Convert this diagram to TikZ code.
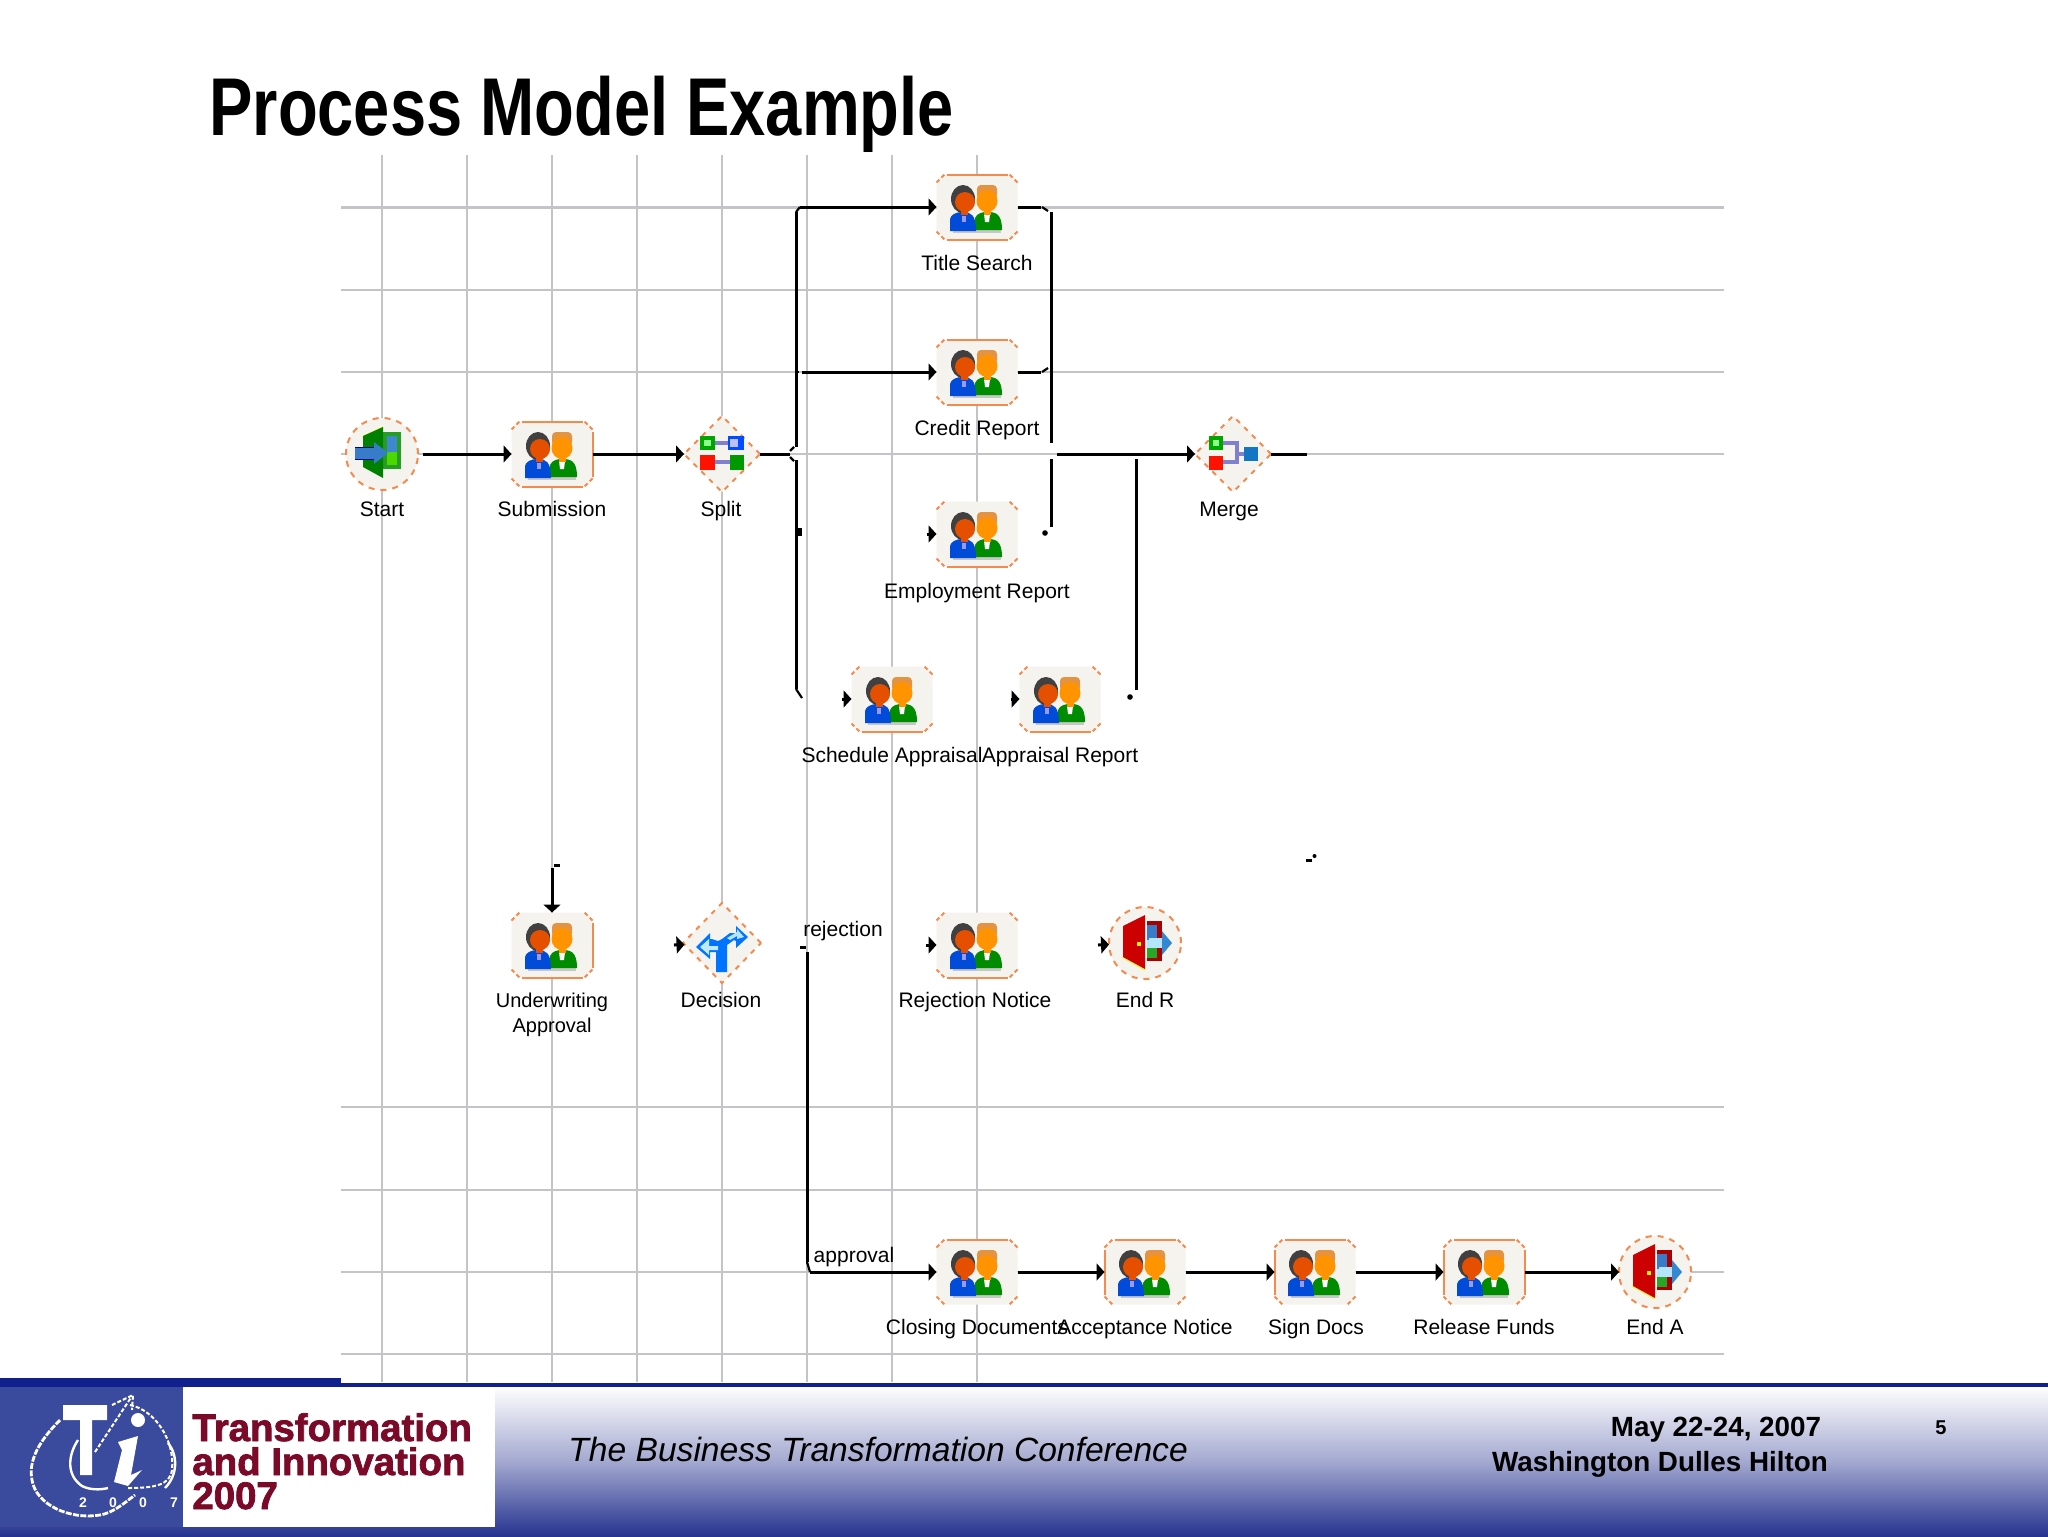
\documentclass[tikz,border=0pt]{standalone}
\usepackage{fontspec}
\setmainfont{Liberation Sans}
\newfontfamily\logofont[FakeBold=2]{Liberation Sans Bold}
\usetikzlibrary{arrows.meta,calc,shapes.geometric}
\definecolor{gridc}{HTML}{C4C4C8}
\definecolor{paneB}{HTML}{F4F3EE}
\definecolor{edgeO}{HTML}{F58A4E}
\definecolor{footB}{HTML}{26338F}
\definecolor{lineB}{HTML}{10208C}
\definecolor{logoB}{HTML}{3A4A9C}
\definecolor{logoR}{HTML}{7A0A28}
\tikzset{
 gridline/.style={gridc,line width=1.35pt},
 flow/.style={black,line width=1.5pt,-{Triangle[length=4pt,width=8.5pt]}},
 plain/.style={black,line width=1.5pt},
 thinflow/.style={black,line width=1.1pt},
 edge/.style={edgeO,line width=1pt},
 taskbox/.style={rectangle,fill=paneB,rounded corners=5pt,minimum width=40.5pt,minimum height=32.5pt,inner sep=0pt,outer sep=0pt},
 roundbox/.style={circle,fill=paneB,draw=edgeO,line width=1pt,dash pattern=on 3pt off 3pt,minimum size=36pt,inner sep=0pt,outer sep=0pt},
 gatebox/.style={diamond,fill=paneB,draw=edgeO,line width=1pt,dash pattern=on 2.5pt off 3pt,minimum width=38pt,minimum height=38pt,inner sep=0pt,outer sep=0pt},
 lab/.style={font=\fontsize{10.5}{12.5}\selectfont,inner sep=0pt,align=center,anchor=base},
 people/.pic={
  % right person
  \fill[black!22] (-24,23) rectangle (24,26);
  \fill[green!55!black] (-2,23) -- (-2,11) .. controls (0,6) and (6,5) .. (10,5) .. controls (18,5) and (25,6) .. (25,23) -- cycle;
  \fill[white] (7,7) -- (13,7) -- (12,15) -- (8,15) -- cycle;
  \fill[orange!50!brown!85,rounded corners=2pt] (0,-22) rectangle (20,-8);
  \fill[orange!85!yellow] (10,-6) ellipse (10.5 and 11);
  \fill[orange!85!yellow] (7,3) rectangle (14,8);
  % left person
  \fill[blue!65!cyan!85!black] (-27,24) -- (-27,12) .. controls (-26,8) and (-22,5) .. (-14,5) .. controls (-6,5) and (-1,8) .. (-1,24) -- cycle;
  \fill[white!60!blue] (-15,9) rectangle (-11,15);
  \fill[black!75] (-14,-8) ellipse (12 and 14);
  \fill[orange!70!red!90!black] (-12,-5) ellipse (10 and 10);
  \fill[orange!70!red!90!black] (-16,2) rectangle (-9,8);
 },
 splitico/.pic={
  \draw[black!40!blue!50,line width=2pt] (-15,-11) -- (15,-11) (-15,8) -- (15,8);
  \fill[green!65!black] (-22,-18) rectangle (-7,-4);
  \fill[green!45!white] (-18,-14) rectangle (-11,-8);
  \fill[blue!70!cyan] (6,-18) rectangle (22,-4);
  \fill[blue!25] (8,-15) rectangle (16,-7);
  \fill[red!85!orange] (-22,1) rectangle (-7,16);
  \fill[green!60!black] (8,1) rectangle (22,16);
 },
 mergeico/.pic={
  \draw[black!40!blue!50,line width=2.2pt] (-14,-11) -- (4,-11) -- (4,8) -- (-14,8) (4,0) -- (14,0);
  \fill[green!65!black] (-24,-18) rectangle (-10,-4);
  \fill[green!45!white] (-20,-14) rectangle (-14,-8);
  \fill[red!85!orange] (-24,2) rectangle (-10,16);
  \fill[cyan!55!blue] (11,-7) rectangle (25,7);
 },
 decico/.pic={
  \fill[blue!55!cyan] (-6,29) -- (5,29) -- (5,2) -- (12,-3) -- (14,-2) -- (14,5) -- (26,-6) -- (14,-17) -- (14,-10) -- (8,-10) -- (0,-4) -- (-4,-2) -- (-10,-4) -- (-12,-4) -- (-12,-10) -- (-26,4) -- (-12,16) -- (-12,9) -- (-6,9) -- cycle;
  \fill[cyan!25!white] (-22,4) -- (-13,-4) -- (-13,3) -- (-4,3) -- (-4,7) -- (-13,7) -- (-13,12) -- cycle;
  \fill[cyan!30!white] (5,-5) -- (15,-11) -- (15,-14) -- (22,-6) -- (15,-4) -- (15,-7) -- (8,-3) -- cycle;
 },
 enterico/.pic={
  \fill[green!55!black!85] (1,-22) rectangle (19,15);
  \fill[cyan!55!blue!80] (5,-18) rectangle (15,-2);
  \fill[green!65!yellow!85!black] (5,-2) rectangle (15,11);
  \draw[yellow!70,line width=.8pt] (-20,-17) -- (1,-27);
  \fill[green!50!black] (-19,-18) -- (1,-27) -- (1,24) -- (-19,13) -- cycle;
  \fill[cyan!50!blue!85] (-27,-7) rectangle (-6,5);
  \fill[cyan!50!blue!85] (-8,-12) -- (6,-1) -- (-8,10) -- cycle;
  \draw[blue!60!black,line width=.5pt] (-27,-7) -- (-8,-7) (-27,5) -- (-8,5);
 },
 exitico/.pic={
  \fill[red!65!black] (2,-22) rectangle (17,18);
  \fill[cyan!50!blue!85] (2,-18) rectangle (12,-3);
  \fill[white!70!cyan] (2,-3) rectangle (12,5);
  \fill[green!60!black!85] (2,5) rectangle (12,15);
  \draw[yellow!70,line width=.8pt] (-23,14) -- (0,27);
  \fill[red!80!black] (-22,-17) -- (0,-28) -- (0,26) -- (-22,14) -- cycle;
  \fill[yellow] (-8,-1) rectangle (-4,3);
  \fill[white!70!cyan] (4,-5) rectangle (17,5);
  \fill[cyan!60!blue!85] (17,-12) -- (27,0) -- (17,12) -- cycle;
 }
}
\newcommand{\TaskNode}[3]{%
 \node[taskbox] (#1) at (#2,#3) {};
 \pic at (#1) {people};
 \draw[edge,dash pattern=on 2pt off 1.5pt] ($(#1.north west)+(0,8)$) -- ($(#1.north west)+(8,0)$);
 \draw[edge,dash pattern=on 2pt off 1.5pt] ($(#1.north east)+(0,8)$) -- ($(#1.north east)+(-8,0)$);
 \draw[edge,dash pattern=on 2pt off 1.5pt] ($(#1.south west)+(0,-8)$) -- ($(#1.south west)+(8,0)$);
 \draw[edge,dash pattern=on 2pt off 1.5pt] ($(#1.south east)+(0,-8)$) -- ($(#1.south east)+(-8,0)$);
}
\newcommand{\TopEdge}[1]{\draw[edge] ($(#1.north west)+(10,0)$) -- ($(#1.north east)+(-10,0)$);}
\newcommand{\BotEdge}[1]{\draw[edge] ($(#1.south west)+(10,0)$) -- ($(#1.south east)+(-10,0)$);}
\newcommand{\LeftEdge}[1]{\draw[edge] ($(#1.north west)+(0,10)$) -- ($(#1.south west)+(0,-10)$);}
\newcommand{\RightEdge}[1]{\draw[edge] ($(#1.north east)+(0,10)$) -- ($(#1.south east)+(0,-10)$);}
\begin{document}
\begin{tikzpicture}[x=0.5pt,y=-0.5pt]
\useasboundingbox (0,0) rectangle (2048,1536);
\fill[white] (0,0) rectangle (2048,1536);
% grid
\foreach \gx in {382,467,552,637,722,807,892,977}
  \draw[gridline] (\gx,155) -- (\gx,1382);
\foreach \gy in {207.5,290,372,454,1107,1190,1272,1354}
  \draw[gridline] (341,\gy) -- (1724,\gy);
% footer
\shade[top color=white,bottom color=footB,middle color=footB!42!white] (0,1386) rectangle (2048,1536);
\fill[lineB] (0,1378) rectangle (341,1387);
\fill[lineB] (341,1383) rectangle (2048,1387);
% task and gate nodes
\node[roundbox] (start) at (382,454) {};
\pic at (start) {enterico};
\TaskNode{sub}{552}{454}\TopEdge{sub}\BotEdge{sub}\RightEdge{sub}
\node[gatebox] (split) at (722,454) {};
\pic at (split) {splitico};
\TaskNode{title}{977}{207}\TopEdge{title}\BotEdge{title}
\TaskNode{credit}{977}{372}\TopEdge{credit}\BotEdge{credit}
\TaskNode{employ}{977}{534}\BotEdge{employ}
\TaskNode{sched}{892}{699}\BotEdge{sched}
\TaskNode{appr}{1060}{699}\BotEdge{appr}
\node[gatebox] (merge) at (1233,454) {};
\pic at (merge) {mergeico};
\TaskNode{under}{552}{945}\BotEdge{under}\RightEdge{under}
\node[gatebox,minimum width=39pt,minimum height=40pt] (decide) at (722,943) {};
\pic at (decide) {decico};
\TaskNode{reject}{977}{945}\BotEdge{reject}
\node[roundbox] (endr) at (1145,943) {};
\pic at (endr) {exitico};
\TaskNode{closing}{977}{1272}\TopEdge{closing}
\TaskNode{accept}{1145}{1272}\TopEdge{accept}\LeftEdge{accept}
\TaskNode{sign}{1315}{1272}\TopEdge{sign}\LeftEdge{sign}
\TaskNode{release}{1484}{1272}\TopEdge{release}\LeftEdge{release}\RightEdge{release}
\node[roundbox] (enda) at (1655,1272) {};
\pic at (enda) {exitico};
% named free ends
\coordinate (sj) at (790,454);
\coordinate (bl0) at (800,207);
\coordinate (bl1) at (796,212);
\coordinate (bl2) at (796,447);
\coordinate (bl3) at (796,460);
\coordinate (bl4) at (796,689);
\coordinate (bl5) at (802,698);
\coordinate (tl) at (800,207);
\coordinate (cl) at (802,372);
\coordinate (estub) at (927,534);
\coordinate (sstub) at (842,699);
\coordinate (astub) at (1011,699);
\coordinate (tr) at (1041,207);
\coordinate (cr) at (1041,372);
\coordinate (br1) at (1051,212);
\coordinate (br2) at (1051,443);
\coordinate (br3) at (1051,459);
\coordinate (br4) at (1051,527);
\coordinate (mj) at (1057,454);
\coordinate (b2a) at (1136,459);
\coordinate (b2b) at (1136,690);
\coordinate (mout) at (1307,454);
\coordinate (utop) at (552,868);
\coordinate (dstub) at (674,945);
\coordinate (rstub) at (926,945);
\coordinate (estub2) at (1098,945);
\coordinate (dv1) at (807,952);
\coordinate (dv2) at (807,1262);
\coordinate (dh) at (810,1272);
% connectors
\draw[flow,shorten <=2.5pt] (start) -- (sub);
\draw[flow] (sub) -- (split);
\draw[plain] (split) -- (sj);
\draw[plain] (bl1) -- (bl2);
\draw[plain] (bl3) -- (bl4);
\draw[thinflow] (bl1) -- (bl0);
\draw[thinflow] (bl4) -- (bl5);
\draw[flow] (tl) -- (title);
\draw[flow] (cl) -- (credit);
\draw[flow] (estub) -- (employ);
\draw[flow] (sstub) -- (sched);
\draw[flow] (astub) -- (appr);
\draw[plain] (title) -- (tr);
\draw[plain] (credit) -- (cr);
\draw[plain] (br1) -- (br2);
\draw[plain] (br3) -- (br4);
\draw[flow] (mj) -- (merge);
\draw[plain] (b2a) -- (b2b);
\draw[plain] (merge) -- (mout);
\draw[flow] (utop) -- (under);
\draw[flow] (dstub) -- (decide);
\draw[flow] (rstub) -- (reject);
\draw[flow] (estub2) -- (endr);
\draw[plain] (dv1) -- (dv2);
\draw[thinflow] (dv2) -- (dh);
\draw[flow] (dh) -- (closing);
\draw[flow] (closing) -- (accept);
\draw[flow] (accept) -- (sign);
\draw[flow] (sign) -- (release);
\draw[flow] (release) -- (enda);
% connector fragments
\draw[thinflow] (790,451) -- (794,447) (790,457) -- (794,461);
\draw[thinflow] (1042,207) -- (1048,211) (1042,372) -- (1048,368);
\draw[thinflow] (795,372) -- (799,372);
\fill (1045,533) circle (2.8);
\fill (1130,697) circle (2.8);
\fill (797,528) rectangle (802,536);
\fill (800,946) rectangle (806,948.5);
\fill (554,864) rectangle (560,866.5);
\fill (1306,862) rectangle (1312,859);
\fill (1314.5,856) circle (2);
% labels
\node[lab] (l1) at (382,516) {Start};
\node[lab] (l2) at (552,516) {Submission};
\node[lab] (l3) at (721,516) {Split};
\node[lab] (l4) at (977,270) {Title Search};
\node[lab] (l5) at (977,435) {Credit Report};
\node[lab] (l6) at (977,598) {Employment Report};
\node[lab] (l7) at (892,762) {Schedule Appraisal};
\node[lab] (l8) at (1060,762) {Appraisal Report};
\node[lab] (l9) at (1229,516) {Merge};
\node[lab,anchor=center,font=\fontsize{10}{12.5}\selectfont] (l10) at (552,1014.5) {Underwriting\\Approval};
\node[lab] (l11) at (721,1007) {Decision};
\node[lab] (l12) at (975,1007) {Rejection Notice};
\node[lab] (l13) at (1145,1007) {End R};
\node[lab] (l14) at (843,936) {rejection};
\node[lab] (l15) at (854,1262) {approval};
\node[lab] (l16) at (977,1334) {Closing Documents};
\node[lab] (l17) at (1145,1334) {Acceptance Notice};
\node[lab] (l18) at (1316,1334) {Sign Docs};
\node[lab] (l19) at (1484,1334) {Release Funds};
\node[lab] (l20) at (1655,1334) {End A};
% title
\node[anchor=base west,inner sep=0pt,font=\fontsize{41}{48}\selectfont\bfseries] (ttl) at (209,135) {\scalebox{0.793}[1]{Process Model Example}};
% logo
\fill[logoB] (0,1387) rectangle (183,1527);
\fill[white] (183,1387) rectangle (495,1527);
\node[anchor=base west,inner sep=0pt,text=logoR,font=\logofont\fontsize{19.2}{22}\selectfont] (lg1) at (192,1441) {Transformation};
\node[anchor=base west,inner sep=0pt,text=logoR,font=\logofont\fontsize{19.2}{22}\selectfont] (lg2) at (192,1475) {and Innovation};
\node[anchor=base west,inner sep=0pt,text=logoR,font=\logofont\fontsize{19.2}{22}\selectfont] (lg3) at (192,1509) {2007};
% emblem
\fill[white] (63,1405) -- (107,1405) -- (107,1420) -- (92,1420) -- (92,1475) -- (80,1475) -- (80,1420) -- (63,1420) -- cycle;
\draw[white,line width=1.4pt,dash pattern=on 3pt off .7pt] (60,1420) .. controls (40,1440) and (28,1460) .. (32,1480) .. controls (36,1505) and (70,1520) .. (100,1515) .. controls (112,1513) and (122,1505) .. (135,1495);
\draw[white,line width=1.2pt] (78,1440) .. controls (68,1455) and (66,1475) .. (82,1486) .. controls (90,1490) and (100,1490) .. (108,1488);
\draw[white,line width=1pt,dash pattern=on 2pt off 1pt] (130,1405) .. controls (155,1410) and (175,1440) .. (172,1470) .. controls (170,1485) and (155,1488) .. (128,1488);
\draw[white,line width=1.2pt] (168,1443) .. controls (178,1455) and (178,1475) .. (165,1488);
\fill[white] (138,1420) circle (7);
\fill[white] (118,1442) -- (138,1436) -- (131,1475) -- (142,1470) -- (128,1486) -- (114,1482) -- (122,1450) -- cycle;
\draw[white,line width=1pt,dash pattern=on 2pt off 1pt] (95,1452) -- (132,1396) (112,1405) -- (133,1395) -- (132,1410);
\node[text=white,inner sep=0pt,font=\fontsize{7}{8}\selectfont\bfseries] (y1) at (83,1503) {2};
\node[text=white,inner sep=0pt,font=\fontsize{7}{8}\selectfont\bfseries] (y2) at (113,1503) {0};
\node[text=white,inner sep=0pt,font=\fontsize{7}{8}\selectfont\bfseries] (y3) at (143,1503) {0};
\node[text=white,inner sep=0pt,font=\fontsize{7}{8}\selectfont\bfseries] (y4) at (174,1503) {7};
% footer texts
\node[anchor=base west,inner sep=0pt,font=\fontsize{16.8}{20}\selectfont\itshape] (f1) at (568,1461) {The Business Transformation Conference};
\node[inner sep=0pt,font=\fontsize{13.9}{16}\selectfont\bfseries] (f2) at (1716,1430) {May 22-24, 2007};
\node[inner sep=0pt,font=\fontsize{13.9}{16}\selectfont\bfseries] (f3) at (1660,1464) {Washington Dulles Hilton};
\node[inner sep=0pt,font=\fontsize{10}{12}\selectfont\bfseries] (f4) at (1941,1428) {5};
\end{tikzpicture}
\end{document}
